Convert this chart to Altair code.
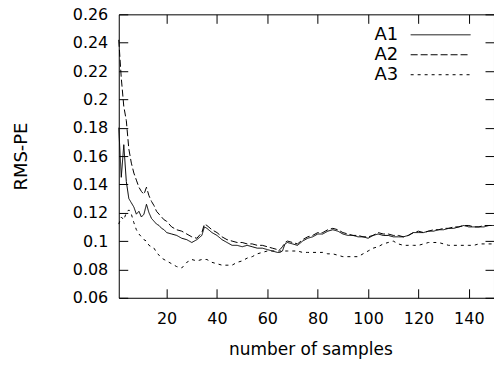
import altair as alt
import pandas as pd

samples = [1,2,3,4,5,6,7,8,9,10,11,12,13,14,15,16,17,18,19,20,22,24,26,28,30,32,34,35,36,38,
           40,42,44,46,48,50,52,54,56,58,60,62,64,65,66,67,68,70,72,74,76,78,80,82,84,86,88,90,
           92,94,96,98,100,102,104,106,108,110,112,114,116,118,120,122,124,126,128,130,132,134,
           136,138,140,142,144,146,148,150]

a1 = [0.180,0.145,0.168,0.142,0.130,0.127,0.124,0.119,0.121,0.117,0.119,0.126,0.120,0.116,0.114,
      0.112,0.111,0.109,0.108,0.106,0.105,0.104,0.102,0.101,0.099,0.101,0.104,0.110,0.109,0.106,
      0.104,0.101,0.099,0.097,0.097,0.096,0.097,0.096,0.095,0.095,0.094,0.093,0.092,0.092,0.093,
      0.098,0.099,0.098,0.097,0.100,0.102,0.103,0.105,0.105,0.107,0.108,0.107,0.105,0.104,0.104,
      0.103,0.103,0.102,0.104,0.105,0.104,0.104,0.103,0.103,0.103,0.104,0.106,0.106,0.106,0.107,
      0.107,0.108,0.108,0.109,0.109,0.110,0.111,0.110,0.110,0.110,0.110,0.111,0.111]

a2 = [0.242,0.215,0.195,0.185,0.165,0.155,0.148,0.143,0.138,0.135,0.133,0.138,0.132,0.128,0.125,
      0.121,0.119,0.117,0.115,0.114,0.110,0.108,0.107,0.105,0.103,0.102,0.106,0.112,0.111,0.108,
      0.106,0.103,0.101,0.100,0.099,0.099,0.098,0.098,0.097,0.097,0.096,0.095,0.094,0.094,0.096,
      0.099,0.100,0.099,0.098,0.101,0.103,0.104,0.106,0.106,0.108,0.109,0.108,0.106,0.105,0.104,
      0.104,0.103,0.103,0.104,0.106,0.105,0.105,0.104,0.104,0.103,0.104,0.106,0.107,0.106,0.107,
      0.108,0.108,0.109,0.109,0.110,0.110,0.111,0.111,0.110,0.110,0.111,0.111,0.111]

a3 = [0.112,0.117,0.115,0.120,0.122,0.119,0.113,0.108,0.105,0.103,0.101,0.100,0.097,0.096,0.095,
      0.092,0.090,0.088,0.087,0.086,0.084,0.082,0.081,0.085,0.087,0.086,0.087,0.087,0.087,0.085,
      0.084,0.083,0.083,0.083,0.085,0.086,0.088,0.089,0.091,0.092,0.093,0.093,0.093,0.093,0.093,
      0.093,0.093,0.093,0.093,0.092,0.092,0.092,0.092,0.092,0.091,0.091,0.090,0.089,0.089,0.089,
      0.089,0.091,0.093,0.095,0.096,0.098,0.099,0.100,0.098,0.097,0.097,0.097,0.097,0.098,0.099,
      0.099,0.099,0.098,0.097,0.097,0.097,0.097,0.097,0.097,0.098,0.098,0.098,0.098]

series_names = ["A1", "A2", "A3"]
x_ticks = [20, 40, 60, 80, 100, 120, 140]
y_ticks = [0.06, 0.08, 0.10, 0.12, 0.14, 0.16, 0.18, 0.20, 0.22, 0.24, 0.26]

rows = []
for name, vals in zip(series_names, [a1, a2, a3]):
    for n, v in zip(samples, vals):
        rows.append({"n": n, "v": v, "series": name})
df = pd.DataFrame(rows)

FONT = "DejaVu Sans"
xs = alt.Scale(domain=[1, 150], nice=False, zero=False)
ys = alt.Scale(domain=[0.06, 0.26], nice=False, zero=False)

lines = alt.Chart(df).mark_line(color="black", strokeWidth=1).encode(
    x=alt.X("n:Q", scale=xs, axis=alt.Axis(
        orient="bottom", values=x_ticks, offset=-9, tickSize=9, domain=False, grid=False,
        labelPadding=13, title="number of samples", titleX=192, titleY=66,
        titleBaseline="alphabetic", titleAlign="center", titleFontSize=17)),
    y=alt.Y("v:Q", scale=ys, axis=alt.Axis(
        orient="left", values=y_ticks, format=".2~f", offset=-9, tickSize=9, domain=False,
        grid=False, labelPadding=11, title="RMS-PE", titleX=-101, titleY=142,
        titleBaseline="alphabetic", titleAlign="center", titleAngle=270, titleFontSize=18)),
    strokeDash=alt.StrokeDash("series:N", scale=alt.Scale(
        domain=series_names, range=[[1, 0], [7, 3], [3, 4]]),
        legend=alt.Legend(orient="none", legendX=312, legendY=10, title=None,
                          symbolType="M-3,0H3", symbolSize=400, symbolStrokeWidth=1,
                          symbolStrokeColor="black", symbolFillColor="transparent",
                          labelAlign="right", labelOffset={"expr": "-53"},
                          labelFontSize=18, labelFont=FONT, labelColor="black",
                          rowPadding=0, padding=0)),
)

frame = alt.Chart(df).mark_point(opacity=0).encode(
    x=alt.X("n:Q", scale=xs, axis=alt.Axis(
        orient="top", values=x_ticks, offset=-9, tickSize=9, domain=False, grid=False,
        labels=False, title=None)),
    y=alt.Y("v:Q", scale=ys, axis=alt.Axis(
        orient="right", values=y_ticks, offset=-9, tickSize=9, domain=False, grid=False,
        labels=False, title=None)),
)

chart = alt.layer(lines, frame).resolve_axis(x="independent", y="independent").properties(
    width=376, height=284,
    padding={"left": 119, "top": 14, "right": 0, "bottom": 68},
    autosize=alt.AutoSizeParams(type="none"),
    background="white",
).configure_view(stroke="black", strokeWidth=1).configure_axis(
    labelFont=FONT, labelFontSize=16, labelColor="black", titleFont=FONT,
    titleFontWeight="normal", titleColor="black", tickColor="black", tickWidth=1,
)

chart.save("out.html", embed_options={"renderer": "svg", "actions": False})
